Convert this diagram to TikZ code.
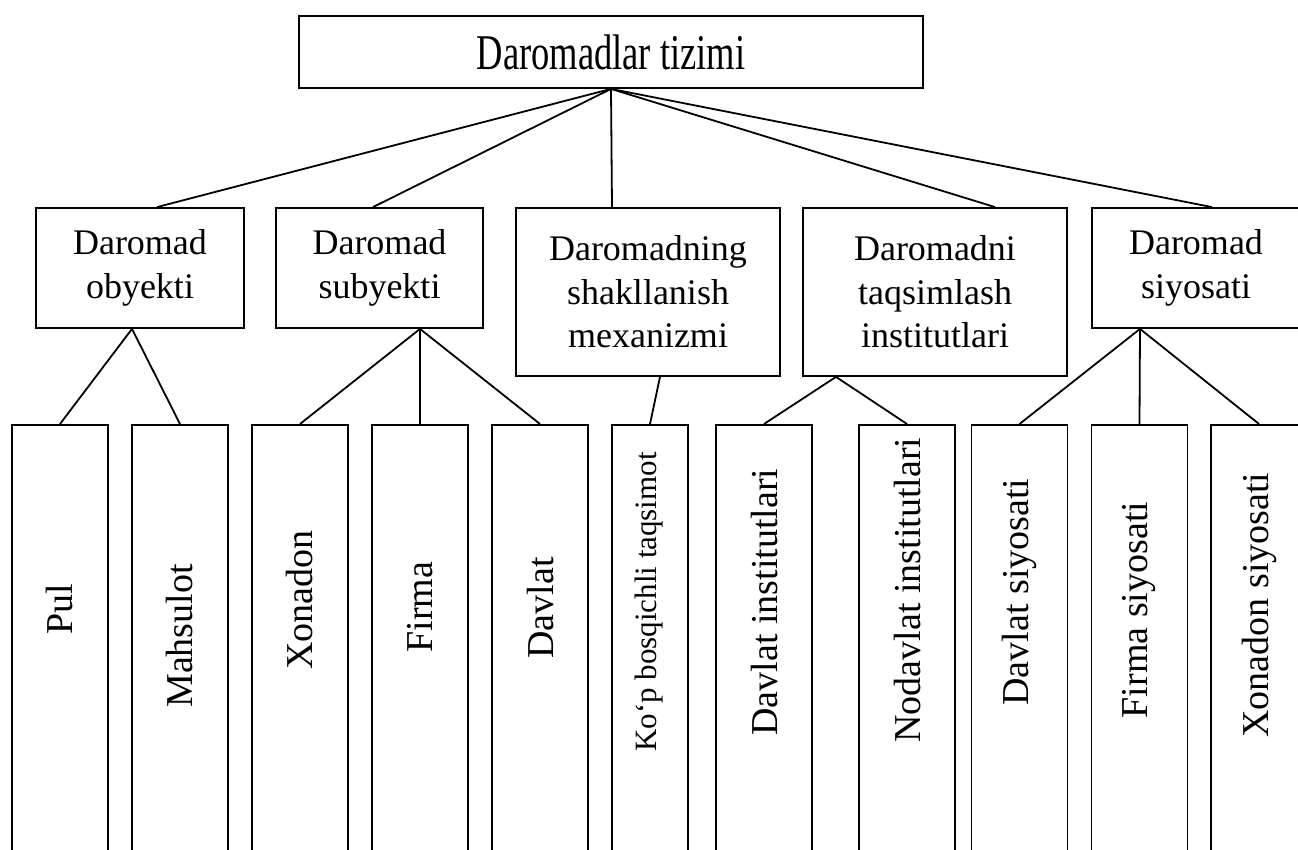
\documentclass[tikz,border=0pt]{standalone}
\usepackage{fontspec}
\setmainfont{Liberation Serif}
\newfontfamily\tfont{Liberation Serif}[FakeStretch=0.73]
\usetikzlibrary{calc}

\begin{document}
\begin{tikzpicture}[
  x=0.5pt, y=-0.5pt,
  line width=0.9pt,
  box/.style={draw, rectangle, align=center, inner sep=0pt,
    font=\fontsize{18}{21.75}\selectfont},
  leaf/.style={draw, rectangle, anchor=north, minimum width=48pt, minimum height=240pt},
  vtext/.style={rotate=90, inner sep=0pt, font=\fontsize{19}{21}\selectfont}
]
\useasboundingbox (0,0) rectangle (1298,850);

\node[box, minimum width=312pt, minimum height=36pt, font=\tfont\fontsize{25}{26}\selectfont] (tizim) at (611,52) {Daromadlar tizimi};

\node[box, minimum width=104pt, minimum height=60pt] (obyekti) at (140,268) {Daromad\\obyekti};
\node[box, minimum width=103.5pt, minimum height=60pt] (subyekti) at (379.5,268) {Daromad\\subyekti};
\node[box, minimum width=132pt, minimum height=84pt] (mexanizm) at (648,292) {Daromadning\\shakllanish\\mexanizmi};
\node[box, minimum width=132pt, minimum height=84pt] (taqsimlash) at (935,292) {Daromadni\\taqsimlash\\institutlari};
\node[box, minimum width=104pt, minimum height=60pt] (siyosati) at (1196,268) {Daromad\\siyosati};

\node[leaf] (pul) at (60,424) {};
\node[leaf] (mahsulot) at (180,424) {};
\node[leaf] (xonadon) at (300,424) {};
\node[leaf] (firma) at (420,424) {};
\node[leaf] (davlat) at (540,424) {};
\node[leaf, minimum width=38pt] (kop) at (650,424) {};
\node[leaf] (dinst) at (764,424) {};
\node[leaf] (ndinst) at (907,424) {};
\node[leaf] (dsiy) at (1019.5,424) {};
\node[leaf] (fsiy) at (1139.5,424) {};
\node[leaf] (xsiy) at (1259,424) {};

\node[vtext] (pul-t) at (60,609) {Pul};
\node[vtext] (mahsulot-t) at (180,636) {Mahsulot};
\node[vtext] (xonadon-t) at (300,600) {Xonadon};
\node[vtext] (firma-t) at (420,607) {Firma};
\node[vtext] (davlat-t) at (540,608) {Davlat};
\node[vtext, font=\fontsize{15.5}{18}\selectfont] (kop-t) at (649,602) {Ko‘p bosqichli taqsimot};
\node[vtext] (dinst-t) at (764,602) {Davlat institutlari};
\node[vtext] (ndinst-t) at (907,590) {Nodavlat institutlari};
\node[vtext] (dsiy-t) at (1019.5,592) {Davlat siyosati};
\node[vtext] (fsiy-t) at (1139.5,610) {Firma siyosati};
\node[vtext] (xsiy-t) at (1259,605) {Xonadon siyosati};

\foreach \n/\dx in {obyekti/17, subyekti/-6.5, mexanizm/-36, taqsimlash/60, siyosati/16} {
  \draw (tizim.south) -- ($(\n.north)+(\dx,0)$);
}

\foreach \p/\dx/\c in {obyekti/-8/pul, obyekti/-8/mahsulot,
    subyekti/40.5/xonadon, subyekti/40.5/firma, subyekti/40.5/davlat,
    mexanizm/12/kop,
    taqsimlash/-99/dinst, taqsimlash/-99/ndinst,
    siyosati/-56/dsiy, siyosati/-56/fsiy, siyosati/-56/xsiy} {
  \draw ($(\p.south)+(\dx,0)$) -- (\c.north);
}

\end{tikzpicture}
\end{document}
